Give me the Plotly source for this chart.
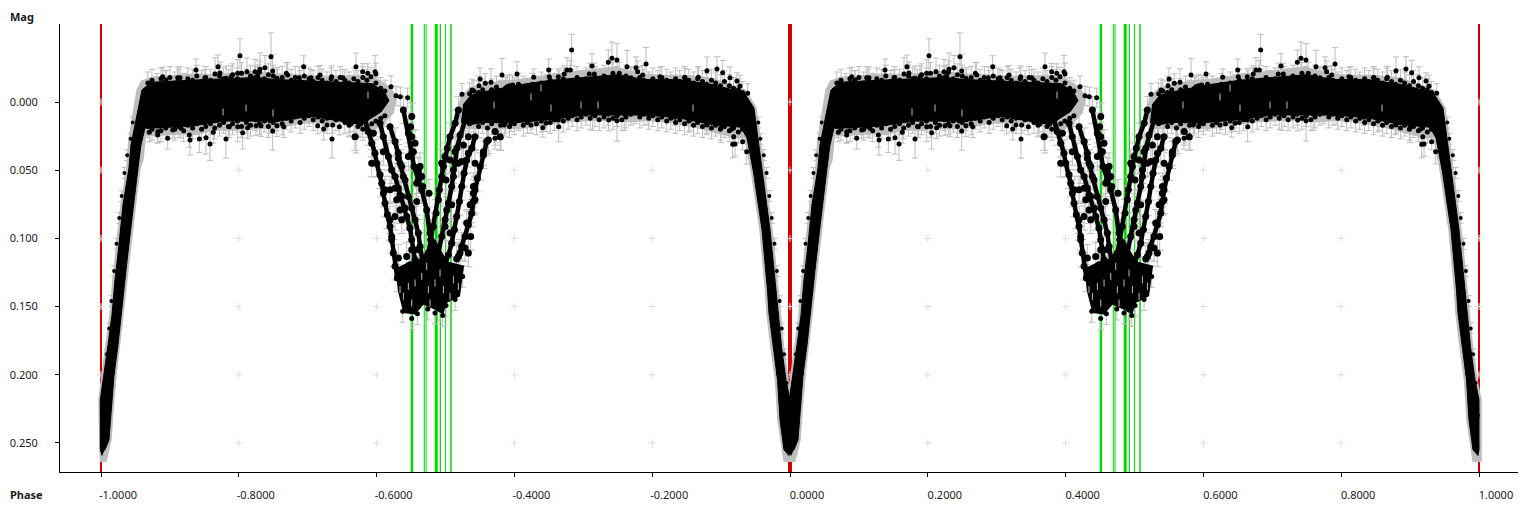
import plotly.graph_objects as go

# ---- axis values -------------------------------------------------------
PHASE_TICKS = [-1.0, -0.8, -0.6, -0.4, -0.2, 0.0, 0.2, 0.4, 0.6, 0.8, 1.0]
PHASE_LABELS = ["-1.0000", "-0.8000", "-0.6000", "-0.4000", "-0.2000", "0.0000",
                "0.2000", "0.4000", "0.6000", "0.8000", "1.0000"]
MAG_TICKS = [0.0, 0.05, 0.1, 0.15, 0.2, 0.25]
MAG_LABELS = ["0.000", "0.050", "0.100", "0.150", "0.200", "0.250"]

# ---- epoch markers -----------------------------------------------------
RED_PHASES = [-1.0, 0.0, 1.0]
GREEN_PHASES = [0.4512, 0.4692, 0.4718, 0.4865, 0.4925, 0.5002, 0.5080]

# ---- dense cloud envelopes (phase folded, 0..1) ------------------------
CORE1_P = [.0015,-.001,-.001,.0044,.0102,.0160,.0203,.0261,.0319,.0406,.0435,.0493,.0552,.0595,.0726,.1234,.1524,.1814,.2250,.2540,.2975,.3410,.3919,.4107,.4180,.4064,.3774,.3048,.2569,.2322,.1814,.1335,.0842,.0639,.0580,.0537,.0479,.0421,.0363,.0305,.0247,.0189,.0145,.0116,.0058]
CORE1_M = [.2592,.2548,.2184,.2001,.1781,.1561,.1305,.1048,.0755,.0484,.0315,.0169,.0022,-.0088,-.0145,-.0160,-.0165,-.0170,-.0180,-.0165,-.0155,-.0145,-.0135,-.0080,-.0010,.0073,.0165,.0105,.0140,.0140,.0140,.0175,.0190,.0190,.0315,.0484,.0718,.0975,.1232,.1525,.1781,.2001,.2258,.2478,.2550]
CORE2_P = [.5254,.5370,.5559,.6052,.6531,.7010,.7504,.7881,.8374,.8853,.9332,.9477,.9536,.9594,.9710,.9797,.9826,.9877,.9942,1.0,1.0,.9985,.9913,.9855,.9819,.9753,.9695,.9673,.9594,.9470,.9376,.9289,.8853,.8374,.7881,.7504,.7010,.6531,.6052,.5559,.5370,.5225]
CORE2_M = [.0022,-.0051,-.0075,-.0125,-.0160,-.0180,-.0200,-.0165,-.0165,-.0130,-.0070,.0044,.0279,.0513,.0938,.1378,.1547,.1796,.2038,.2184,.2548,.2592,.2550,.2331,.2038,.1796,.1547,.1378,.0938,.0513,.0264,.0185,.0165,.0115,.0095,.0095,.0095,.0130,.0150,.0150,.0165,.0150]
FLOOR_P = [.4270,.4437,.4606,.4679,.4848,.4921,.5040,.5270,.5211,.5018,.4969,.4848,.4679,.4558,.4389,.4316]
FLOOR_M = [.1220,.1180,.1157,.1120,.1000,.1080,.1170,.1200,.1425,.1474,.1559,.1523,.1486,.1559,.1547,.1401]
HALO1_P = [-.0020,-.0040,.0004,.0062,.0120,.0163,.0221,.0279,.0366,.0395,.0453,.0513,.0580,.0726,.0943,.1161,.1379,.1597,.1814,.2177,.2540,.2830,.3120,.3410,.3774,.3991,.4180,.4300,.4250,.4064,.3846,.3556,.3265,.2902,.2540,.2250,.1959,.1669,.1379,.1088,.0798,.0653,.0620,.0577,.0519,.0461,.0403,.0345,.0287,.0229,.0185,.0156,.0080]
HALO1_M = [.2640,.2184,.2001,.1781,.1561,.1305,.1048,.0755,.0484,.0279,.0095,-.0088,-.0155,-.0185,-.0195,-.0200,-.0210,-.0205,-.0210,-.0230,-.0210,-.0205,-.0195,-.0195,-.0200,-.0180,-.0120,-.0040,.0080,.0185,.0220,.0155,.0155,.0160,.0200,.0200,.0210,.0210,.0240,.0240,.0250,.0250,.0425,.0484,.0718,.0975,.1232,.1525,.1781,.2001,.2258,.2478,.2640]
HALO2_P = [.5152,.5225,.5370,.5588,.5806,.6096,.6386,.6749,.7112,.7475,.7837,.8127,.8490,.8853,.9144,.9361,.9517,.9576,.9634,.9750,.9837,.9866,.9917,.9982,1.004,1.004,.9905,.9815,.9779,.9713,.9655,.9633,.9554,.9430,.9336,.9260,.8998,.8636,.8200,.7910,.7692,.7402,.7112,.6749,.6386,.6096,.5806,.5515,.5298]
HALO2_M = [.0095,-.0051,-.0110,-.0130,-.0160,-.0170,-.0190,-.0220,-.0240,-.0260,-.0210,-.0200,-.0200,-.0180,-.0130,-.0090,.0044,.0279,.0513,.0938,.1378,.1547,.1796,.2038,.2184,.2640,.2640,.2331,.2038,.1796,.1547,.1378,.0938,.0513,.0264,.0270,.0240,.0190,.0150,.0140,.0150,.0140,.0140,.0150,.0180,.0200,.0200,.0200,.0200]

# ---- rows of observations along the rim of the cloud --------------------
RIM1_P = [.068,.074,.081,.087,.094,.100,.107,.113,.120,.126,
          .133,.139,.146,.152,.159,.165,.172,.178,.185,.191,
          .198,.204,.211,.217,.224,.230,.237,.243,.250,.256,
          .263,.269,.276,.282,.289,.295,.302,.308,.315,.321,
          .328,.334,.341,.347,.354,.360,.367,.373,.380,.386,
          .393,.399,.406,.412]
RIM1_UP = [-.014,-.016,-.013,-.017,-.015,-.018,-.014,-.016,-.013,-.017,
           -.016,-.019,-.015,-.018,-.016,-.014,-.019,-.017,-.016,-.020,
           -.017,-.021,-.016,-.019,-.018,-.022,-.017,-.020,-.019,-.016,
           -.018,-.021,-.016,-.018,-.015,-.019,-.017,-.015,-.018,-.016,
           -.014,-.017,-.015,-.018,-.016,-.014,-.017,-.015,-.018,-.016,
           -.012,-.014,-.010,-.008]
RIM1_LO = [.018,.020,.017,.021,.019,.016,.020,.018,.021,.017,
           .019,.016,.020,.018,.016,.019,.017,.015,.018,.016,
           .014,.018,.015,.017,.013,.016,.014,.018,.015,.013,
           .016,.012,.014,.011,.015,.012,.010,.013,.011,.014,
           .012,.010,.013,.011,.015,.017,.014,.018,.020,.018,
           .016,.014,.012,.010]
RIM2_P = [.535,.541,.548,.554,.561,.567,.574,.580,.587,.593,
          .600,.606,.613,.619,.626,.632,.639,.645,.652,.658,
          .665,.671,.678,.684,.691,.697,.704,.710,.717,.723,
          .730,.736,.743,.749,.756,.762,.769,.775,.782,.788,
          .795,.801,.808,.814,.821,.827,.834,.840,.847,.853,
          .860,.866,.873,.879,.886,.892,.899,.905,.912,.918,
          .925,.931]
RIM2_UP = [-.006,-.008,-.007,-.009,-.006,-.009,-.011,-.008,-.010,-.012,
           -.010,-.013,-.011,-.009,-.013,-.011,-.014,-.012,-.016,-.013,
           -.015,-.017,-.014,-.016,-.018,-.015,-.017,-.014,-.018,-.016,
           -.019,-.017,-.021,-.018,-.016,-.019,-.017,-.015,-.018,-.016,
           -.014,-.017,-.015,-.018,-.016,-.014,-.017,-.015,-.018,-.016,
           -.014,-.017,-.015,-.013,-.016,-.014,-.012,-.015,-.012,-.010,
           -.009,-.007]
RIM2_LO = [.016,.014,.018,.015,.019,.016,.014,.017,.015,.018,
           .016,.013,.017,.015,.012,.016,.014,.011,.015,.013,
           .011,.014,.012,.010,.013,.011,.009,.012,.010,.013,
           .011,.009,.012,.010,.013,.011,.009,.008,.011,.009,
           .012,.010,.013,.011,.014,.012,.015,.013,.016,.014,
           .017,.015,.018,.016,.019,.017,.020,.018,.021,.019,
           .022,.020]
RIM_ERR = 0.008

# ---- observations along the edges of the primary eclipse ---------------
LIMB_M = [.2300,.2200,.2060,.1990,.1850,.1760,.1660,.1540,.1460,.1340,.1240,.1140,.1040,.0960,.0850,.0770,.0690,.0600,.0520,.0460,.0390,.0330,.0270,.0210,.0150,.0100]
LIMB_EGRESS_P = [.0015,.0135,.0050,.0175,.0085,.0215,.0120,.0240,.0150,.0280,.0190,.0310,.0225,.0340,.0265,.0375,.0300,.0410,.0340,.0445,.0380,.0480,.0430,.0520,.0460,.0550]
LIMB_INGRESS_P = [.9985,.9865,.9950,.9825,.9915,.9785,.9880,.9760,.9850,.9720,.9810,.9690,.9775,.9660,.9735,.9625,.9700,.9590,.9660,.9555,.9620,.9520,.9570,.9480,.9540,.9450]
LIMB_ERR = 0.004

# ---- eclipse tracks seen in the secondary minimum ----------------------
TRACKS_P = [
    [.3832,.3880,.3929,.3977,.4001,.4050,.4074,.4098,.4122,.4156,.4195,.4219,.4243,.4268,.4301],
    [.4050,.4098,.4171,.4219,.4268,.4316,.4364,.4413,.4437,.4485,.4510,.4534,.4558],
    [.4195,.4268,.4316,.4340,.4389,.4461,.4510,.4558,.4606,.4631,.4679],
    [.4389,.4461,.4510,.4543,.4606,.4655,.4727,.4776,.4824],
    [.5187,.5139,.5066,.5027,.4994,.4969,.4945,.4911,.4897,.4863,.4824,.4785,.4752],
    [.5429,.5381,.5308,.5269,.5236,.5202,.5163,.5129,.5090,.5042,.4994],
    [.5599,.5550,.5502,.5463,.5429,.5405,.5381,.5332,.5284,.5236,.5187],
    [.5284,.5211,.5163,.5139,.5115,.5090,.5042,.4994,.4945,.4897],
]
TRACKS_M = [
    [.0132,.0217,.0303,.0376,.0449,.0534,.0595,.0669,.0742,.0827,.0913,.1010,.1108,.1205,.1291],
    [.0156,.0254,.0400,.0498,.0547,.0632,.0693,.0778,.0839,.0925,.1010,.1083,.1157],
    [.0181,.0290,.0376,.0449,.0547,.0693,.0778,.0864,.0961,.1059,.1205],
    [.0059,.0229,.0376,.0473,.0571,.0644,.0791,.0961,.1157],
    [.0059,.0156,.0254,.0339,.0400,.0473,.0547,.0644,.0717,.0815,.0913,.1010,.1108],
    [.0254,.0339,.0425,.0522,.0620,.0730,.0839,.0937,.1035,.1120,.1205],
    [.0290,.0388,.0473,.0559,.0644,.0730,.0815,.0900,.0986,.1059,.1132],
    [.0132,.0242,.0339,.0449,.0547,.0620,.0742,.0864,.0986,.1108],
]
TRACK_ERR = 0.010

# ---- scattered observations between the tracks --------------------------
CLUSTER_P = [.4510,.4495,.4510,.4558,.4534,.4461,.4631,.4606,.4655,.4582,.4669,.4761,.4582,.4292,.4195,.4122,.4268,.4340,.4413,.4364,.4316,.4098,.3929,.3953,.3759,.3614,.3687,
             .5139,.5115,.5187,.5236,.5332,.5429,.5550,.5720,.5792,.5623,.5260,.5332,.5405,.5405,.5357,.5429,.5308,.5366,.5284,.5332,.5211,.5163,.5066,.4994,.5018,.5090,.5008,.4945,.5066,
             .4268,.4364,.4340,.4510,.4437,.4485,.4606,.4195,.4219,.4316]
CLUSTER_M = [.0107,.0181,.0254,.0303,.0364,.0400,.0473,.0510,.0547,.0595,.0620,.0669,.0730,.0717,.0644,.0644,.0632,.0681,.0571,.0473,.0412,.0364,.0449,.0229,.0156,.0156,.0254,
             .0364,.0498,.0449,.0437,.0376,.0449,.0364,.0217,.0254,.0278,.0315,.0254,.0620,.0669,.0754,.0717,.0888,.0986,.1071,.1108,.1108,.1152,.0961,.0913,.0791,.0754,.0571,.0449,.0425,
             .0839,.0864,.0791,.1083,.1132,.1193,.1083,.0864,.0986,.1144]

# ---- error bars showing through gaps in the dense cloud -----------------
SPECK_P = [.4461,.4558,.4389,.4727,.4848,.4969,.5115,.4751,.4510,.4921,.5066,.4655,.5187,.4340,.4776,
           .1771,.2105,.2496,.3875,
           .6241,.6386,.5704,.6967,.7213,.6531,.8592]
SPECK_M = [.1352,.1327,.1425,.1205,.1327,.1376,.1303,.1376,.1474,.1254,.1425,.1279,.1352,.1376,.1474,
           .0073,.0044,.0081,-.0051,
           -.0037,-.0103,.0022,.0022,.0022,.0044,.0044]

# ---- individually visible observations: phase, mag, error --------------
OBS_P = [.2017,.2467,.1698,.1379,.2308,.2380,.2235,.2119,.2492,.1655,.1727,.1113,.1147,.0895,.1509,.1814,.1984,.2274,.1887,.0943,
         .0701,.0823,.0823,.0968,.1282,.1292,.1427,.1524,.1582,.1814,.2056,.1984,.1862,.2129,.2250,.2322,.2453,.2492,.1630,.1161,.1041,
         .2942,.3701,.3179,.3798,.3871,.3977,.3991,.3919,.3508,.3348,.2878,.2710,.2554,.3048,.4209,.4282,.4344,.4451,
         .3353,.3232,.3701,.3459,.3363,.3280,.3145,.3614,.2652,.2554,
         .6831,.7416,.7489,.7363,.7126,.6498,.6763,.6811,.5820,.6038,.5501,.5660,.5578,.5486,.5385,.5239,.6280,.6637,.6506,.6724,.7087,.7160,.5893,.5975,
         .5806,.5733,.5718,.6241,.6411,.6459,.6643,.6637,.6846,.7136,.7368,.7489,.7489,.5951,.5853,.5612,
         .7910,.7634,.7765,.7789,.7862,.7692,.7522,.8940,.8795,.9023,.8476,.8670,.8113,.9129,.9231,.9274,.9386,
         .7595,.7925,.8055,.8239,.8331,.8549,.8795,.8998,.9154,.9183,.9168,.9202,.9313,.9371,
         .4379,.4510,.4592,.4742,.4848,.4960,.4921,.5008,.5139,.5250]
OBS_M = [-.0339,-.0332,-.0259,-.0235,-.024,-.0251,-.0222,-.0222,-.0227,-.0205,-.0213,-.0178,-.0178,-.0185,-.0178,-.0174,-.021,-.0193,-.0185,-.0161,
         .0222,.0218,.0242,.0266,.0242,.0279,.0271,.0262,.0308,.0271,.0225,.0181,.0181,.0188,.0174,.0174,.0139,.0213,.0222,.0193,.0205,
         -.0259,-.0259,-.0198,-.0222,-.021,-.0222,-.0205,-.0185,-.0178,-.0185,-.0178,-.0198,-.0174,-.0178,-.0112,-.0046,-.0039,-.0032,
         .0271,.0198,.0254,.0181,.0169,.0169,.0174,.0159,.0181,.0174,
         -.0381,-.032,-.0308,-.0291,-.0264,-.0235,-.0235,-.0235,-.0198,-.0205,-.0169,-.0144,-.0137,-.012,-.0088,-.0056,-.0181,-.0185,-.0185,-.0205,-.0205,-.0205,-.0112,-.0125,
         .0262,.0218,.0266,.0169,.0188,.0156,.0181,.0132,.0083,.0088,.0132,.0137,.01,.0156,.0169,.0279,
         -.0279,-.0259,-.0251,-.0222,-.0198,-.0178,-.021,-.0242,-.023,-.0215,-.0178,-.0181,-.0185,-.0178,-.0154,-.0117,-.0064,
         .0088,.0088,.0078,.0071,.0112,.0132,.0169,.0188,.0198,.0254,.031,.0308,.0291,.0364,
         .1535,.1588,.1552,.1518,.1547,.1566,.1523,.1493,.1449,.1279]
OBS_E = [.0125,.0175,.0085,.008,.012,.009,.009,.01,.012,.012,.008,.008,.008,.007,.006,.009,.01,.008,.008,.007,
         .007,.008,.006,.008,.009,.011,.01,.012,.012,.014,.012,.011,.008,.008,.007,.008,.009,.014,.008,.007,.006,
         .008,.01,.007,.006,.007,.012,.008,.007,.006,.008,.008,.009,.008,.006,.008,.007,.007,.007,
         .014,.008,.012,.006,.006,.006,.006,.006,.008,.008,
         .0115,.012,.012,.009,.009,.008,.009,.007,.012,.009,.008,.01,.007,.007,.008,.008,.006,.006,.006,.006,.008,.008,.008,.007,
         .009,.008,.008,.006,.007,.006,.011,.006,.006,.012,.008,.015,.008,.006,.008,.008,
         .012,.012,.008,.008,.007,.008,.008,.009,.01,.009,.007,.008,.007,.008,.006,.008,.007,
         .012,.008,.006,.006,.006,.008,.006,.011,.006,.007,.01,.009,.006,.009,
         .008,.008,.008,.008,.008,.008,.008,.008,.008,.008]


def folded(values):
    """The folded light curve is shown twice: at phase p and at p - 1."""
    return list(values) + [None] + [v - 1 for v in values]


def doubled(values):
    return list(values) + [None] + list(values)


GRAY = "#bdbdbd"
BLACK = "#000000"
fig = go.Figure()


def bars(xs, ys, err):
    fig.add_trace(go.Scatter(x=folded(xs), y=doubled(ys), mode="markers",
                             marker=dict(size=1, color=GRAY), error_y=err, hoverinfo="skip"))


def dots(xs, ys, size):
    fig.add_trace(go.Scatter(x=folded(xs), y=doubled(ys), mode="markers",
                             marker=dict(size=size, color=BLACK), hoverinfo="skip"))


grid_x = [x for x in PHASE_TICKS for _ in MAG_TICKS]
grid_y = [y for _ in PHASE_TICKS for y in MAG_TICKS]
fig.add_trace(go.Scatter(x=grid_x, y=grid_y, mode="markers",
                         marker=dict(symbol="cross-thin", size=5, line=dict(color="#dcdcdc", width=1)),
                         hoverinfo="skip"))

for hp, hm in ((HALO1_P, HALO1_M), (HALO2_P, HALO2_M)):
    fig.add_trace(go.Scatter(x=folded(hp), y=doubled(hm), mode="lines", fill="toself",
                             fillcolor=GRAY, line=dict(width=0), hoverinfo="skip"))

const_track = dict(type="constant", value=TRACK_ERR, color=GRAY, thickness=1, width=4)
const_rim = dict(type="constant", value=RIM_ERR, color=GRAY, thickness=1, width=3)
const_limb = dict(type="constant", value=LIMB_ERR, color=GRAY, thickness=1, width=3)
for tp, tm in zip(TRACKS_P, TRACKS_M):
    bars(tp, tm, const_track)
bars(CLUSTER_P, CLUSTER_M, const_track)
for rp, rm in ((RIM1_P, RIM1_UP), (RIM1_P, RIM1_LO), (RIM2_P, RIM2_UP), (RIM2_P, RIM2_LO)):
    bars(rp, rm, const_rim)
bars(LIMB_EGRESS_P, LIMB_M, const_limb)
bars(LIMB_INGRESS_P, LIMB_M, const_limb)
bars(OBS_P, OBS_M, dict(type="data", array=doubled(OBS_E), color=GRAY, thickness=1, width=3))

fig.add_trace(go.Scatter(x=folded(FLOOR_P), y=doubled(FLOOR_M), mode="lines", fill="toself",
                         fillcolor=BLACK, line=dict(width=0), hoverinfo="skip"))
for cp, cm in ((CORE1_P, CORE1_M), (CORE2_P, CORE2_M)):
    fig.add_trace(go.Scatter(x=folded(cp), y=doubled(cm), mode="lines", fill="toself",
                             fillcolor=BLACK, line=dict(width=1, color=BLACK), hoverinfo="skip"))

for tp, tm in zip(TRACKS_P, TRACKS_M):
    fig.add_trace(go.Scatter(x=folded(tp), y=doubled(tm), mode="lines+markers",
                             line=dict(color=BLACK, width=4.5),
                             marker=dict(size=7, color=BLACK), hoverinfo="skip"))
dots(CLUSTER_P, CLUSTER_M, 7)
for rp, rm in ((RIM1_P, RIM1_UP), (RIM1_P, RIM1_LO), (RIM2_P, RIM2_UP), (RIM2_P, RIM2_LO)):
    dots(rp, rm, 5)
dots(LIMB_EGRESS_P, LIMB_M, 4)
dots(LIMB_INGRESS_P, LIMB_M, 4)
dots(OBS_P, OBS_M, 5)
fig.add_trace(go.Scatter(x=folded(SPECK_P), y=doubled(SPECK_M), mode="markers",
                         marker=dict(symbol="line-ns", size=5, line=dict(color=GRAY, width=1)),
                         hoverinfo="skip"))

shapes = []
for p in RED_PHASES:
    shapes.append(dict(type="line", xref="x", yref="paper", x0=p, x1=p, y0=0, y1=1, layer="below",
                       line=dict(color="#d40000", width=4 if p == 0 else 2)))
GREEN_WIDTHS = [2.5, 1, 1, 3, 1.2, 1, 1.5]
for p, w in zip(GREEN_PHASES, GREEN_WIDTHS):
    for q in (p, p - 1):
        shapes.append(dict(type="line", xref="x", yref="paper", x0=q, x1=q, y0=0, y1=1, layer="below",
                           line=dict(color="#00d800", width=w)))

FONT = "Noto Sans, Open Sans, sans-serif"
fig.update_layout(
    width=1520, height=496, showlegend=False, plot_bgcolor="white", paper_bgcolor="white",
    margin=dict(l=52, r=10, t=16, b=32), shapes=shapes,
    font=dict(family=FONT, size=11, color="#1a1a1a"),
    xaxis=dict(range=[-1.0595, 1.0566], tickvals=PHASE_TICKS, ticktext=PHASE_LABELS, automargin=False,
               showgrid=False, zeroline=False, showline=True, linecolor="black", linewidth=1,
               ticks="outside", ticklen=4, tickcolor="black", ticklabelshift=17, ticklabelstandoff=9),
    yaxis=dict(range=[0.2713, -0.0572], tickvals=MAG_TICKS, ticktext=MAG_LABELS, automargin=False,
               showgrid=False, zeroline=False, showline=True, linecolor="black", linewidth=1,
               ticks="outside", ticklen=4, tickcolor="black", ticklabelstandoff=15),
    annotations=[
        dict(text="<b>Mag</b>", xref="paper", yref="paper", x=-0.0357, y=1.0178,
             xanchor="left", yanchor="middle", showarrow=False),
        dict(text="<b>Phase</b>", xref="paper", yref="paper", x=-0.0357, y=-0.0513,
             xanchor="left", yanchor="middle", showarrow=False),
    ],
)
fig.write_html("out.html")
